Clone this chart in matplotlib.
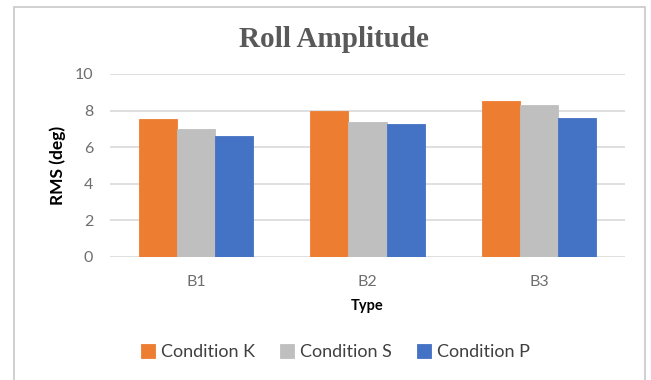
import numpy as np
import matplotlib.pyplot as plt
from matplotlib.patches import Rectangle

# Roll amplitude RMS per type and condition
types = ["B1", "B2", "B3"]
conditions = ["Condition K", "Condition S", "Condition P"]
cond_k = [7.55, 8.0, 8.55]
cond_s = [7.0, 7.4, 8.3]
cond_p = [6.6, 7.25, 7.6]
colors = ["#ed7d31", "#bfbfbf", "#4472c4"]

plt.rcParams["font.family"] = ["Lato", "DejaVu Sans"]

fig = plt.figure(figsize=(6.51, 3.80), dpi=100)
ax = fig.add_axes([0.169, 0.3237, 0.791, 0.4816])

# chart frame
fig.patches.append(Rectangle((14 / 651, -0.05), 631 / 651, 1 - 7 / 380 + 0.05,
                             transform=fig.transFigure, fill=False,
                             edgecolor="#c8c8c8", linewidth=1.2))

x = np.arange(len(types))
width = 0.222
series = [cond_k, cond_s, cond_p]
for i, vals in enumerate(series):
    ax.bar(x + (i - 1) * width, vals, width, color=colors[i],
           edgecolor=colors[i], linewidth=0.6, label=conditions[i], zorder=3)

ax.set_xlim(-0.5, 2.5)
ax.set_ylim(0, 10)
ax.set_yticks([0, 2, 4, 6, 8, 10])
ax.set_xticks(x)
ax.set_xticklabels(types)
ax.yaxis.grid(True, color="#d9d9d9", linewidth=1.2, zorder=0)
ax.tick_params(length=0, colors="#6e6e6e", labelsize=11.5)
ax.tick_params(axis="x", pad=13)
ax.tick_params(axis="y", pad=12)
for s in ax.spines.values():
    s.set_visible(False)

ax.set_ylabel("RMS (deg)", fontsize=12.5, fontweight="bold", color="black", labelpad=6)
ax.set_xlabel("Type", fontsize=10.5, fontweight="bold", color="black", labelpad=7)

fig.text(0.513, 0.895, "Roll Amplitude", ha="center", va="center",
         fontsize=21, fontweight="bold", color="#595959",
         family=["Liberation Serif", "DejaVu Serif"])

fig.legend(loc="center", bbox_to_anchor=(0.515, 0.074), ncol=3, frameon=False,
           fontsize=13, handlelength=0.8, handleheight=0.8, handletextpad=0.3,
           columnspacing=1.4, labelcolor="#404040")

fig.savefig("out.png", dpi=100)
